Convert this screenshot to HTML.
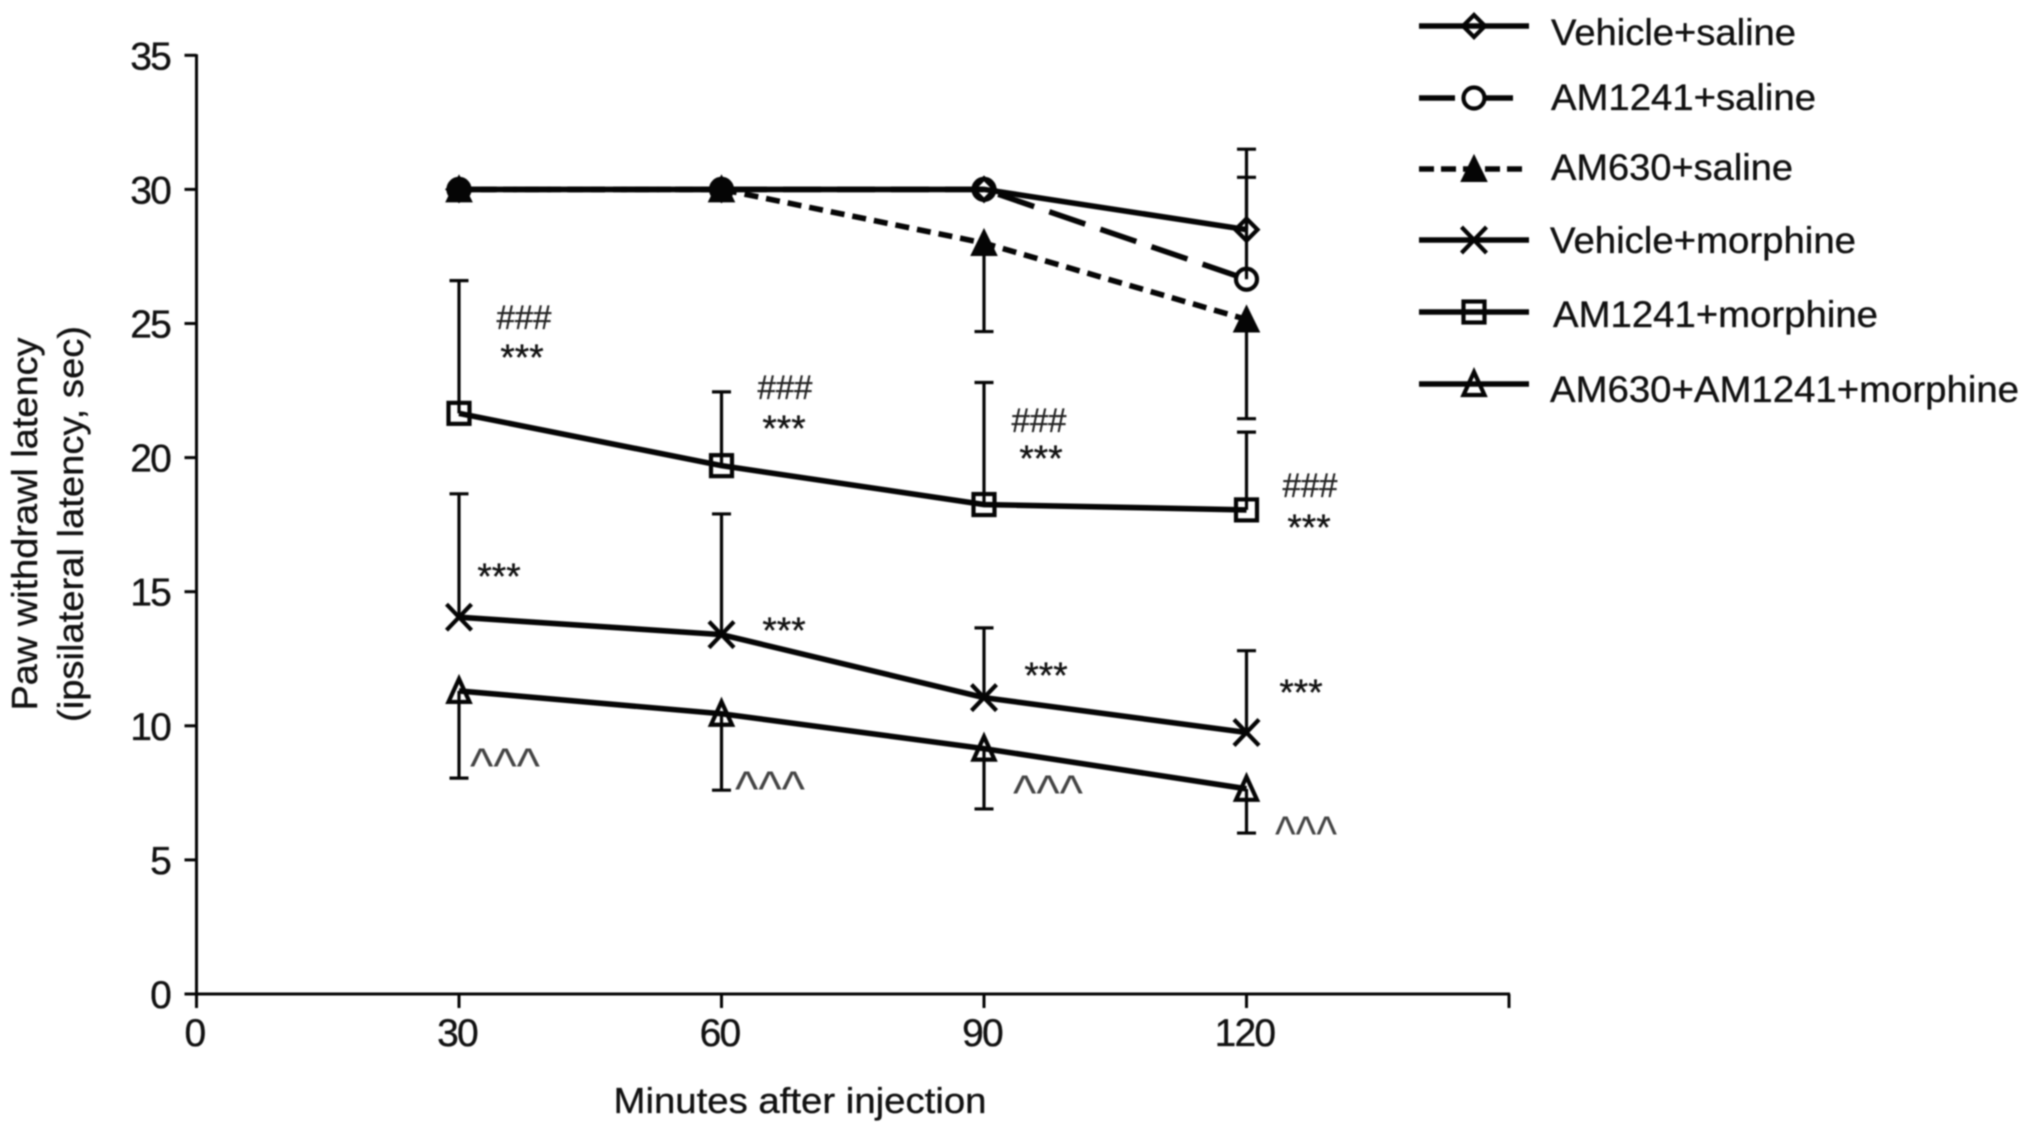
<!DOCTYPE html>
<html lang="en">
<head>
<meta charset="utf-8">
<title>Paw withdrawal latency chart</title>
<style>
  html, body { margin: 0; padding: 0; background: #fff; }
  body { width: 2031px; height: 1133px; overflow: hidden; }
  svg { display: block; filter: blur(0.7px); }
  text { font-family: "Liberation Sans", sans-serif; fill: #111; stroke: #111; stroke-width: 0.35px; }
  .tick { font-size: 39px; letter-spacing: -1.8px; }
  .title { font-size: 36px; }
  .legend { font-size: 37px; }
  .hash { font-size: 34px; fill: #222; stroke: #222; }
  .star { font-size: 37px; fill: #111; }
  .caret { font-size: 50px; fill: #444; stroke: none; }
</style>
</head>
<body>
<svg id="chart" width="2031" height="1133" viewBox="0 0 2031 1133" xmlns="http://www.w3.org/2000/svg">
  <g id="axes"></g>
  <g id="errors"></g>
  <g id="series"></g>

  <text class="title" x="800" y="1113" text-anchor="middle" textLength="373" lengthAdjust="spacingAndGlyphs">Minutes after injection</text>
  <text class="title" transform="translate(37,524) rotate(-90)" text-anchor="middle" textLength="373" lengthAdjust="spacingAndGlyphs">Paw withdrawl latency</text>
  <text class="title" transform="translate(83,524) rotate(-90)" text-anchor="middle" textLength="396" lengthAdjust="spacingAndGlyphs">(ipsilateral latency, sec)</text>

  <g>
    <text class="hash" x="524" y="329" text-anchor="middle" textLength="55" lengthAdjust="spacingAndGlyphs">###</text>
    <text class="hash" x="785" y="399" text-anchor="middle" textLength="55" lengthAdjust="spacingAndGlyphs">###</text>
    <text class="hash" x="1039" y="432" text-anchor="middle" textLength="55" lengthAdjust="spacingAndGlyphs">###</text>
    <text class="hash" x="1310" y="497" text-anchor="middle" textLength="55" lengthAdjust="spacingAndGlyphs">###</text>
  </g>
  <g>
    <text class="star" x="522" y="370" text-anchor="middle">***</text>
    <text class="star" x="784" y="441" text-anchor="middle">***</text>
    <text class="star" x="1041" y="471" text-anchor="middle">***</text>
    <text class="star" x="1309" y="540" text-anchor="middle">***</text>
    <text class="star" x="499" y="589" text-anchor="middle">***</text>
    <text class="star" x="784" y="643" text-anchor="middle">***</text>
    <text class="star" x="1046" y="688" text-anchor="middle">***</text>
    <text class="star" x="1301" y="705" text-anchor="middle">***</text>
  </g>
  <g>
    <text class="caret" x="505" y="783" text-anchor="middle" textLength="70" lengthAdjust="spacingAndGlyphs">^^^</text>
    <text class="caret" x="770" y="806" text-anchor="middle" textLength="70" lengthAdjust="spacingAndGlyphs">^^^</text>
    <text class="caret" x="1048" y="810" text-anchor="middle" textLength="70" lengthAdjust="spacingAndGlyphs">^^^</text>
    <text class="caret" x="1306" y="851" text-anchor="middle" textLength="62" lengthAdjust="spacingAndGlyphs">^^^</text>
  </g>

  <g id="legend">
    <text class="legend" x="1551" y="45" textLength="245" lengthAdjust="spacingAndGlyphs">Vehicle+saline</text>
    <text class="legend" x="1551" y="110" textLength="265" lengthAdjust="spacingAndGlyphs">AM1241+saline</text>
    <text class="legend" x="1551" y="180" textLength="242" lengthAdjust="spacingAndGlyphs">AM630+saline</text>
    <text class="legend" x="1550" y="253" textLength="306" lengthAdjust="spacingAndGlyphs">Vehicle+morphine</text>
    <text class="legend" x="1553" y="327" textLength="325" lengthAdjust="spacingAndGlyphs">AM1241+morphine</text>
    <text class="legend" x="1550" y="402" textLength="469" lengthAdjust="spacingAndGlyphs">AM630+AM1241+morphine</text>
  </g>
</svg>

<script>
// ---- chart data ----
const minutes = [30, 60, 90, 120];
const xTicks = [0, 30, 60, 90, 120, 150];
const xTickLabels = ['0', '30', '60', '90', '120', ''];
const yTicks = [0, 5, 10, 15, 20, 25, 30, 35];

const vehicleSaline = [30, 30, 30, 28.5];
const am1241Saline = [30, 30, 30, 26.65];
const am630Saline = [30, 30, 28, 25.15];
const vehicleMorphine = [14.05, 13.4, 11.05, 9.75];
const am1241Morphine = [21.65, 19.7, 18.25, 18.05];
const am630Am1241Morphine = [11.3, 10.45, 9.15, 7.65];

// Error bar end values (null = no visible bar)
const vehicleSalineErr = [null, null, null, 31.5];
const am1241SalineErr = [null, null, null, 30.45];
const am630SalineErr = [null, null, 24.7, 21.45];
const vehicleMorphineErr = [18.65, 17.9, 13.65, 12.8];
const am1241MorphineErr = [26.6, 22.45, 22.8, 20.95];
const am630Am1241MorphineErr = [8.05, 7.6, 6.9, 6.0];

// ---- scales ----
const X0 = 196.5, PX_PER_MIN = 8.75;
const Y0 = 994, PX_PER_UNIT = 26.82;
function xScale(m) { return X0 + m * PX_PER_MIN; }
function yScale(v) { return Y0 - v * PX_PER_UNIT; }

const NS = 'http://www.w3.org/2000/svg';
const INK = '#050505';
function make(tag, attrs, parent) {
  const el = document.createElementNS(NS, tag);
  for (const k in attrs) el.setAttribute(k, attrs[k]);
  parent.appendChild(el);
  return el;
}

// ---- axes ----
const axes = document.getElementById('axes');
const yAxisLine = make('line', {x1: X0, x2: X0, y1: yScale(35) - 1, y2: Y0 + 14, stroke: INK, 'stroke-width': 3}, axes);


const xAxisLine = make('line', {x1: X0 - 12, x2: xScale(150) + 1, y1: Y0, y2: Y0, stroke: INK, 'stroke-width': 3}, axes);



yTicks.forEach(function (t) {
  const y = yScale(t);
  const tick = make('line', {x1: X0 - 12, x2: X0, y1: y, y2: y, stroke: INK, 'stroke-width': 3}, axes);
  
  
  const label = make('text', {class: 'tick', x: 170, y: y + 14, 'text-anchor': 'end'}, axes);
  label.textContent = String(t);
  
  
});

xTicks.forEach(function (t, i) {
  const x = xScale(t);
  const tick = make('line', {x1: x, x2: x, y1: Y0, y2: Y0 + 14, stroke: INK, 'stroke-width': 3}, axes);
  
  
  if (xTickLabels[i]) {
    const label = make('text', {class: 'tick', x: x - 2, y: 1046, 'text-anchor': 'middle'}, axes);
    label.textContent = xTickLabels[i];
    
    
  }
});

// ---- marker drawing ----
function drawMarker(kind, cx, cy, parent, solid) {
  const g = make('g', {fill: 'none', stroke: INK, 'stroke-width': 4.2, 'stroke-linejoin': 'miter'}, parent);
  if (kind === 'diamond') {
    make('polygon', {points: [cx, cy - 11, cx + 11, cy, cx, cy + 11, cx - 11, cy].join(' ')}, g);
  } else if (kind === 'circle') {
    make('circle', {cx: cx, cy: cy, r: 10.5, fill: solid ? INK : 'none'}, g);
  } else if (kind === 'filled-triangle') {
    make('polygon', {points: [cx, cy - 14, cx + 13, cy + 12.5, cx - 13, cy + 12.5].join(' '), fill: INK, 'stroke-width': 1}, g);
  } else if (kind === 'x') {
    make('path', {d: 'M' + (cx - 12.5) + ' ' + (cy - 13) + 'L' + (cx + 12.5) + ' ' + (cy + 13) + 'M' + (cx + 12.5) + ' ' + (cy - 13) + 'L' + (cx - 12.5) + ' ' + (cy + 13)}, g);
  } else if (kind === 'square') {
    make('rect', {x: cx - 10.5, y: cy - 10.5, width: 21, height: 21}, g);
  } else if (kind === 'triangle') {
    make('polygon', {points: [cx, cy - 12, cx + 10.5, cy + 11, cx - 10.5, cy + 11].join(' ')}, g);
  }
  return g;
}

// ---- error bars ----
const errorLayer = document.getElementById('errors');
function drawErrors(means, ends, name) {
  ends.forEach(function (e, i) {
    if (e === null) return;
    const x = xScale(minutes[i]);
    const bar = make('path', {
      d: 'M' + x + ' ' + yScale(means[i]) + 'L' + x + ' ' + yScale(e) + 'M' + (x - 9.5) + ' ' + yScale(e) + 'L' + (x + 9.5) + ' ' + yScale(e),
      stroke: INK, 'stroke-width': 3.2, fill: 'none'
    }, errorLayer);
    
    
  });
}
drawErrors(vehicleSaline, vehicleSalineErr, 'vehicle-saline');
drawErrors(am1241Saline, am1241SalineErr, 'am1241-saline');
drawErrors(am630Saline, am630SalineErr, 'am630-saline');
drawErrors(vehicleMorphine, vehicleMorphineErr, 'vehicle-morphine');
drawErrors(am1241Morphine, am1241MorphineErr, 'am1241-morphine');
drawErrors(am630Am1241Morphine, am630Am1241MorphineErr, 'am630-am1241-morphine');

// ---- series ----
const seriesLayer = document.getElementById('series');
function drawSeries(values, name, kind, dash) {
  const points = values.map(function (v, i) { return xScale(minutes[i]) + ',' + yScale(v); }).join(' ');
  const line = make('polyline', {points: points, fill: 'none', stroke: INK, 'stroke-width': 5.6, 'stroke-dasharray': dash || 'none'}, seriesLayer);
  
  
  values.forEach(function (v, i) {
    // An open marker hidden on a filled triangle reads as a solid blob
    const solid = kind === 'circle' && am630Saline[i] === v;
    const m = drawMarker(kind, xScale(minutes[i]), yScale(v), seriesLayer, solid);
    
    
  });
}
drawSeries(am630Saline, 'am630-saline', 'filled-triangle', '14 8');
drawSeries(am1241Saline, 'am1241-saline', 'circle', '38 16');
drawSeries(vehicleSaline, 'vehicle-saline', 'diamond');
drawSeries(vehicleMorphine, 'vehicle-morphine', 'x');
drawSeries(am1241Morphine, 'am1241-morphine', 'square');
drawSeries(am630Am1241Morphine, 'am630-am1241-morphine', 'triangle');

// ---- legend glyphs ----
const legendLayer = document.getElementById('legend');
const legendRows = [
  {y: 26, kind: 'diamond', dash: 'none', end: 1529, name: 'vehicle-saline'},
  {y: 98, kind: 'circle', dash: '36 28', end: 1513, name: 'am1241-saline'},
  {y: 169, kind: 'filled-triangle', dash: '15 7', end: 1529, name: 'am630-saline'},
  {y: 240, kind: 'x', dash: 'none', end: 1529, name: 'vehicle-morphine'},
  {y: 312, kind: 'square', dash: 'none', end: 1529, name: 'am1241-morphine'},
  {y: 384, kind: 'triangle', dash: 'none', end: 1529, name: 'am630-am1241-morphine'}
];
legendRows.forEach(function (row) {
  const sample = make('line', {x1: 1419, x2: row.end, y1: row.y, y2: row.y, stroke: INK, 'stroke-width': 5.6, 'stroke-dasharray': row.dash}, legendLayer);
  
  
  const mark = drawMarker(row.kind, 1474, row.y, legendLayer, false);
  
  
});
</script>
</body>
</html>
